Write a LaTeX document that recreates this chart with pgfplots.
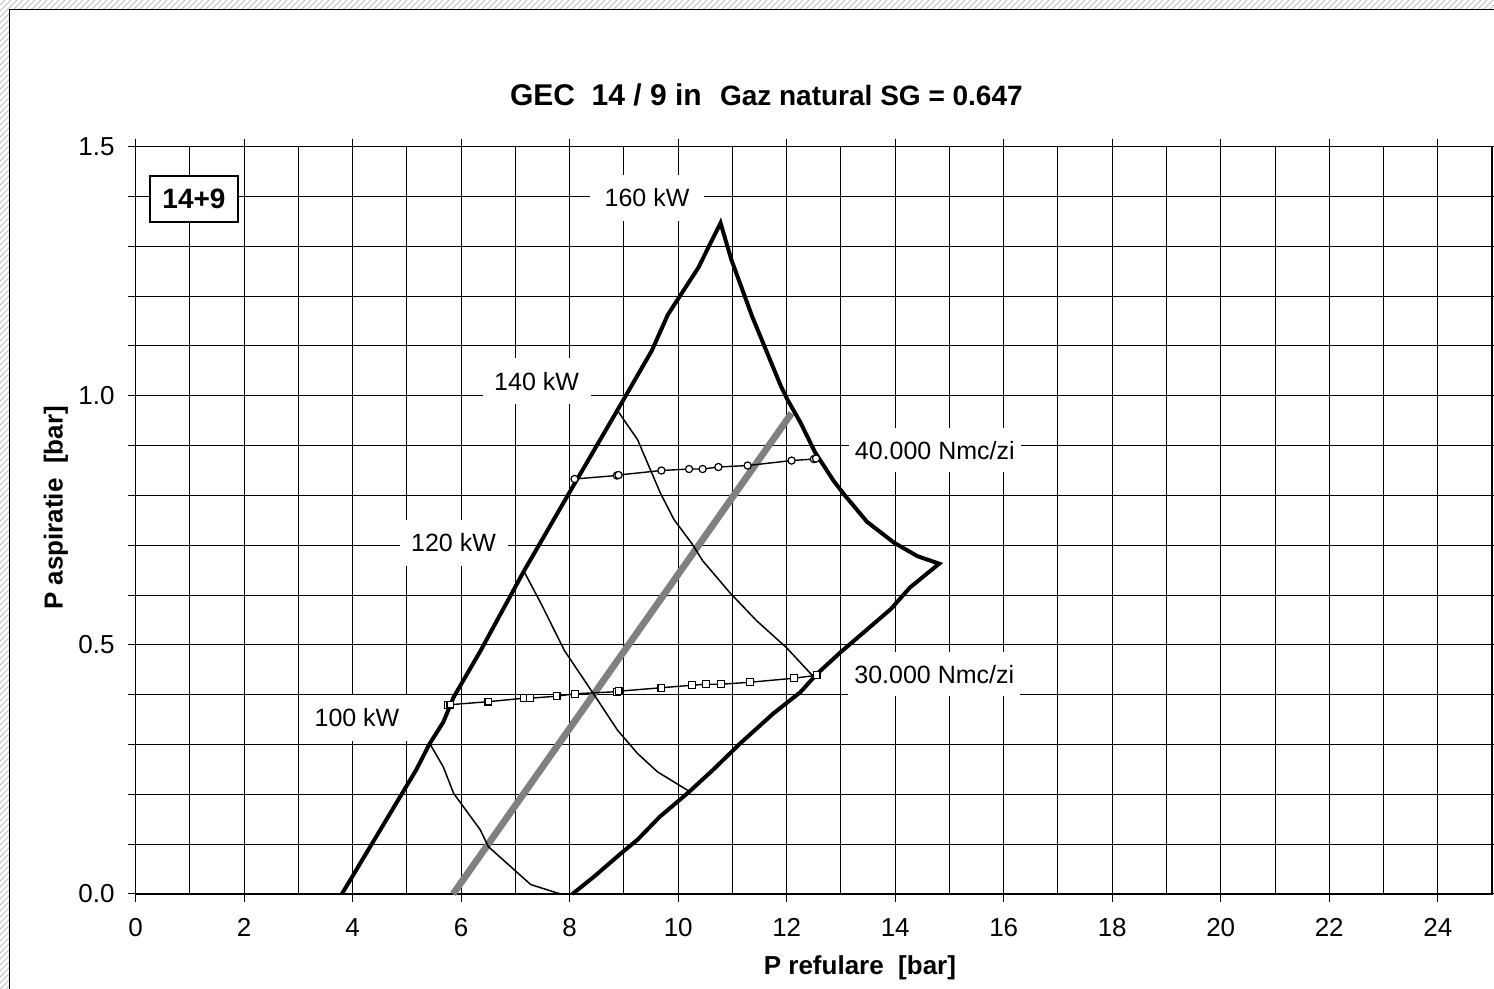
\documentclass[border=0pt]{standalone}
\usepackage{fontspec}
\setmainfont{Liberation Sans}
\usepackage{pgfplots}
\pgfplotsset{compat=1.18}
\usetikzlibrary{patterns}
\definecolor{lgray}{RGB}{128,128,128}
\begin{document}
\begin{tikzpicture}
\path[use as bounding box] (0,0) rectangle (747pt,494.5pt);
\fill[pattern=north east lines, pattern color=gray!50] (0,0) rectangle (4.5pt,494.5pt);
\fill[pattern=north east lines, pattern color=gray!50] (4.5pt,490pt) rectangle (747pt,494.5pt);
\draw[line width=0.5pt] (4.75pt,0) -- (4.75pt,489.75pt) -- (747pt,489.75pt);
\begin{axis}[
  at={(67.85pt,47.5pt)}, anchor=south west,
  scale only axis, width=678.15pt, height=373.65pt,
  xmin=0, xmax=25, ymin=0, ymax=1.5,
  xtick={0,2,...,24}, minor xtick={1,3,...,25},
  ytick={0,0.5,1,1.5},
  minor ytick={0.1,0.2,0.3,0.4,0.6,0.7,0.8,0.9,1.1,1.2,1.3,1.4},
  grid=both,
  major grid style={black, line width=0.5pt},
  minor grid style={black, line width=0.5pt},
  axis line style={black, line width=0.6pt},
  tick align=outside,
  tick style={black, line width=0.5pt},
  major tick length=4pt, minor tick length=4pt,
  minor x tick style={draw=none},
  /pgf/number format/assume math mode=true,
  ticklabel style={font=\fontsize{13}{15}\selectfont},
  xticklabel style={anchor=north, text height=9.5pt, text depth=0pt, yshift=-4pt},
  yticklabel style={xshift=-3pt, /pgf/number format/.cd, fixed, fixed zerofill, precision=1},
  xlabel={P refulare\ \ [bar]},
  ylabel={P aspiratie\ \ [bar]},
  every axis x label/.style={at={(axis description cs:0.534,-0.099)}, anchor=center, font=\fontsize{13}{15}\selectfont\bfseries},
  every axis y label/.style={at={(axis description cs:-0.0588,0.5165)}, rotate=90, anchor=center, font=\fontsize{13}{15}\selectfont\bfseries},
  clip=false,
]
% gray operating line
\addplot[lgray, line width=3.4pt] coordinates {(5.85,0) (12.09,0.965)};
% envelope
\addplot[black, line width=2pt, line join=miter] coordinates {
(3.80,0.000) (5.17,0.249) (5.42,0.302) (5.67,0.345) (5.86,0.395) (6.35,0.487)
(7.15,0.647) (7.99,0.805) (8.90,0.975) (9.51,1.090) (9.81,1.163) (10.37,1.257)
(10.78,1.347) (10.98,1.273) (11.36,1.160) (11.89,1.020) (12.01,0.993) (12.25,0.947)
(12.52,0.887) (12.86,0.830) (13.05,0.803) (13.48,0.747) (13.98,0.705) (14.41,0.678)
(14.81,0.663) (14.27,0.615) (13.92,0.572) (12.99,0.485) (12.56,0.442) (12.25,0.405)
(11.75,0.362) (11.14,0.302) (10.64,0.249) (10.20,0.205) (9.66,0.155) (9.25,0.109)
(8.95,0.082) (8.45,0.035) (8.05,0.000)};
% 100 kW
\addplot[black, line width=0.75pt] coordinates {
(5.42,0.302) (5.67,0.255) (5.86,0.202) (6.35,0.129) (6.50,0.095) (7.28,0.019) (7.77,0.002) (7.85,0.000)};
% 120 kW
\addplot[black, line width=0.75pt] coordinates {
(7.15,0.649) (7.49,0.579) (7.90,0.489) (8.48,0.395) (8.88,0.329) (9.25,0.282) (9.62,0.245) (10.22,0.205)};
% 140 kW
\addplot[black, line width=0.75pt] coordinates {
(8.87,0.972) (9.25,0.912) (9.67,0.805) (9.92,0.752) (10.26,0.702) (10.45,0.669)
(10.95,0.605) (11.44,0.549) (12.00,0.494) (12.46,0.440) (12.55,0.437)};
% 40.000 Nmc/zi
\addplot[black, line width=0.7pt, mark=*, mark size=1.8pt, mark options={fill=white, line width=0.6pt}] coordinates {
(8.09,0.833) (8.87,0.840) (8.90,0.841) (9.69,0.850) (10.20,0.853) (10.45,0.853)
(10.74,0.857) (11.28,0.860) (12.09,0.870) (12.50,0.873) (12.54,0.874)};
% 30.000 Nmc/zi
\addplot[black, line width=0.7pt, mark=square*, mark size=1.7pt, mark options={fill=white, line width=0.6pt}] coordinates {
(5.76,0.379) (5.80,0.380) (6.50,0.386) (7.16,0.393) (7.27,0.393) (7.76,0.397)
(8.10,0.402) (8.87,0.406) (8.90,0.407) (9.69,0.414) (10.25,0.419) (10.51,0.421)
(10.79,0.421) (11.32,0.425) (12.13,0.433) (12.55,0.439)};
% labels
\tikzset{lbl/.style={fill=white, inner sep=0pt, minimum height=23pt, font=\fontsize{12.5}{14}\selectfont}}
\node[lbl, minimum width=57pt] at (axis cs:9.425,1.398) {160 kW};
\node[lbl, minimum width=54pt] at (axis cs:7.39,1.029) {140 kW};
\node[lbl, minimum width=54pt] at (axis cs:5.858,0.705) {120 kW};
\node[lbl, minimum width=54pt] at (axis cs:4.079,0.354) {100 kW};
\node[lbl, minimum width=86pt, minimum height=22pt] at (axis cs:14.73,0.891) {40.000 Nmc/zi};
\node[lbl, minimum width=86pt, minimum height=22pt] at (axis cs:14.72,0.441) {30.000 Nmc/zi};
\node[draw, line width=1pt, fill=white, minimum width=44pt, minimum height=23pt, inner sep=0pt, font=\fontsize{14}{16}\selectfont\bfseries] at (axis cs:1.075,1.395) {14+9};
\node[anchor=base, font=\fontsize{15}{18}\selectfont\bfseries] at (axis cs:8.667,1.582) {GEC\ \ 14 / 9 in};
\node[anchor=base, font=\fontsize{14}{16}\selectfont\bfseries] at (axis cs:13.56,1.582) {Gaz natural SG = 0.647};
\end{axis}
\end{tikzpicture}
\end{document}
